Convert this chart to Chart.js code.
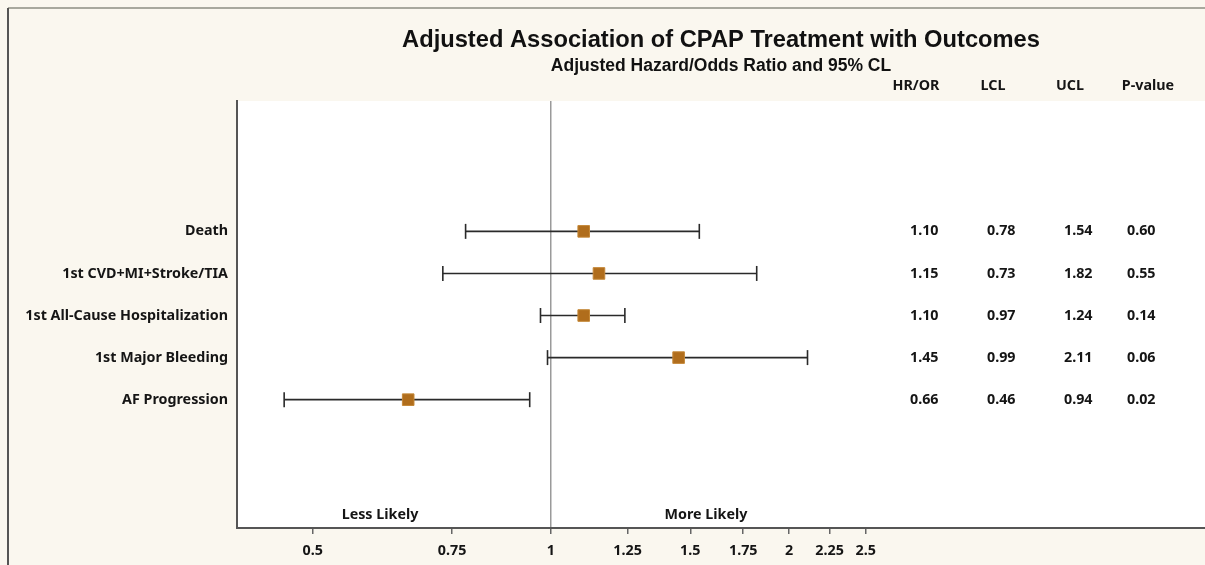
<!DOCTYPE html>
<html>
<head>
<meta charset="utf-8">
<script src="https://cdn.jsdelivr.net/npm/chart.js@4/dist/chart.umd.min.js"></script>
<style>
    html, body { margin: 0; padding: 0; background: #faf7ef; }
    #wrap { width: 1205px; height: 565px; }
</style>
</head>
<body>
<div id="wrap"><canvas id="forestPlot"></canvas></div>
<script>
// values
const outcomes = ['Death', '1st CVD+MI+Stroke/TIA', '1st All-Cause Hospitalization', '1st Major Bleeding', 'AF Progression'];
const hrValues = [1.10, 1.15, 1.10, 1.45, 0.66];
const lclValues = [0.78, 0.73, 0.97, 0.99, 0.46];
const uclValues = [1.54, 1.82, 1.24, 2.11, 0.94];
const pValues = [0.60, 0.55, 0.14, 0.06, 0.02];
const xTicks = [0.5, 0.75, 1, 1.25, 1.5, 1.75, 2, 2.25, 2.5];
const tableHeaders = ['HR/OR', 'LCL', 'UCL', 'P-value'];

const textFont = '"Noto Sans", "Open Sans", sans-serif';

// square markers first so they sit on top of the whiskers
const datasets = [{
    data: hrValues.map((v, i) => ({ x: v, y: i })),
    pointStyle: 'rect',
    pointRadius: 8.2,
    backgroundColor: '#b06d1c',
    borderColor: '#c58838',
    borderWidth: 1,
    showLine: false
}];
outcomes.forEach(function (name, i) {
    datasets.push({
        data: [{ x: lclValues[i], y: i }, { x: uclValues[i], y: i }],
        showLine: true,
        borderColor: '#2a2a2a',
        borderWidth: 1.6,
        pointStyle: 'line',
        rotation: 90,
        pointRadius: 7.5,
        pointBorderColor: '#2a2a2a',
        pointBorderWidth: 1.6
    });
});

const backdrop = {
    id: 'backdrop',
    beforeDraw(chart) {
        const ctx = chart.ctx, a = chart.chartArea;
        ctx.save();
        ctx.fillStyle = '#faf7ef';
        ctx.fillRect(0, 0, chart.width, chart.height);
        ctx.fillStyle = '#ffffff';
        ctx.fillRect(a.left, a.top, a.right - a.left, a.bottom - a.top);
        // outer frame
        ctx.lineWidth = 2;
        ctx.strokeStyle = '#a8a89e';
        ctx.beginPath(); ctx.moveTo(8, 8); ctx.lineTo(chart.width, 8); ctx.stroke();
        ctx.strokeStyle = '#555';
        ctx.beginPath(); ctx.moveTo(8, 8); ctx.lineTo(8, chart.height); ctx.stroke();
        ctx.restore();
    }
};

const statsTable = {
    id: 'statsTable',
    afterDraw(chart) {
        const ctx = chart.ctx, a = chart.chartArea, y = chart.scales.y;
        const headX = [916, 993, 1070, 1148];
        const colX = [910, 987, 1064, 1127];
        ctx.save();
        ctx.fillStyle = '#151515';
        ctx.font = 'bold 14.3px ' + textFont;
        ctx.textBaseline = 'middle';
        ctx.textAlign = 'center';
        tableHeaders.forEach((h, k) => ctx.fillText(h, headX[k], a.top - 15));
        ctx.textAlign = 'left';
        outcomes.forEach(function (name, i) {
            const py = y.getPixelForValue(i);
            const cols = [hrValues[i], lclValues[i], uclValues[i], pValues[i]];
            cols.forEach((v, k) => ctx.fillText(v.toFixed(2), colX[k], py));
        });
        // direction captions
        const x = chart.scales.x;
        ctx.textAlign = 'center';
        ctx.fillText('Less Likely', x.getPixelForValue(0.608), a.bottom - 13);
        ctx.fillText('More Likely', x.getPixelForValue(1.57), a.bottom - 13);
        ctx.restore();
    }
};

new Chart(document.getElementById('forestPlot'), {
    type: 'scatter',
    data: { datasets: datasets },
    options: {
        responsive: true,
        maintainAspectRatio: false,
        animation: false,
        layout: { autoPadding: false, padding: { left: 0, right: 0, top: 0, bottom: 0 } },
        plugins: {
            legend: { display: false },
            tooltip: { enabled: false },
            title: {
                display: true,
                fullSize: false,
                text: 'Adjusted Association of CPAP Treatment with Outcomes',
                color: '#111',
                font: { family: '"Liberation Sans", Arial, sans-serif', size: 23.7, weight: 'bold' },
                padding: { top: 26, bottom: 0 }
            },
            subtitle: {
                display: true,
                fullSize: false,
                text: 'Adjusted Hazard/Odds Ratio and 95% CL',
                color: '#111',
                font: { family: '"Liberation Sans", Arial, sans-serif', size: 17.5, weight: 'bold' },
                padding: { top: 1.5, bottom: 24 }
            }
        },
        scales: {
            x: {
                type: 'logarithmic',
                min: 0.401,
                max: 6.71,
                afterBuildTicks: function (scale) {
                    scale.ticks = xTicks.map(v => ({ value: v }));
                },
                afterFit: function (scale) { scale.height = 37; },
                ticks: {
                    autoSkip: false,
                    maxRotation: 0,
                    padding: 8,
                    color: '#151515',
                    font: { family: textFont, size: 14.3, weight: 'bold' },
                    callback: function (value) { return String(value); }
                },
                grid: {
                    color: ctx => (ctx.tick && ctx.tick.value === 1) ? '#9a9a9a' : 'rgba(0,0,0,0)',
                    lineWidth: 1.5,
                    tickColor: '#666',
                    tickLength: 6
                },
                border: { display: true, color: '#555', width: 2 }
            },
            y: {
                type: 'linear',
                reverse: true,
                min: -3.1,
                max: 7.05,
                afterBuildTicks: function (scale) {
                    scale.ticks = outcomes.map((n, i) => ({ value: i }));
                },
                afterFit: function (scale) { scale.width = 237; },
                ticks: {
                    autoSkip: false,
                    padding: 9,
                    color: '#151515',
                    font: { family: textFont, size: 14.3, weight: 'bold' },
                    callback: function (value) { return outcomes[value]; }
                },
                grid: { display: false, drawTicks: false },
                border: { display: true, color: '#555', width: 2 }
            }
        }
    },
    plugins: [backdrop, statsTable]
});
</script>
</body>
</html>
